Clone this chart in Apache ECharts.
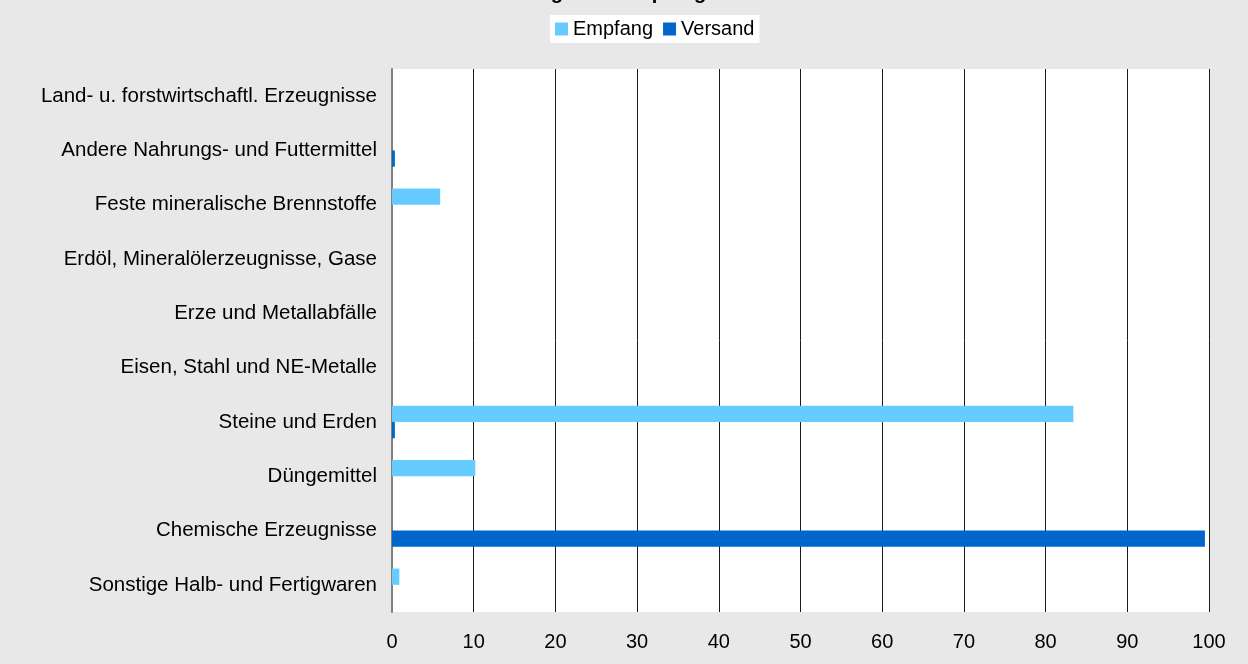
<!DOCTYPE html>
<html>
<head>
<meta charset="utf-8">
<script src="https://cdn.jsdelivr.net/npm/echarts@6/dist/echarts.min.js"></script>
<style>
html,body{margin:0;padding:0;background:#E8E8E8;}
#chart{width:1248px;height:664px;}
</style>
</head>
<body>
<div id="chart"></div>
<script>
const titleText = 'Güterumschlag nach Empfang und Versand';
const categories = [
  'Land- u. forstwirtschaftl. Erzeugnisse',
  'Andere Nahrungs- und Futtermittel',
  'Feste mineralische Brennstoffe',
  'Erdöl, Mineralölerzeugnisse, Gase',
  'Erze und Metallabfälle',
  'Eisen, Stahl und NE-Metalle',
  'Steine und Erden',
  'Düngemittel',
  'Chemische Erzeugnisse',
  'Sonstige Halb- und Fertigwaren'
];
const empfang = [0, 0, 5.9, 0, 0, 0, 83.4, 10.2, 0, 0.9];
const versand = [0, 0.35, 0, 0, 0, 0, 0.35, 0, 99.5, 0];
const xTicks = [0, 10, 20, 30, 40, 50, 60, 70, 80, 90, 100];

const font = 'Liberation Sans, Arial, sans-serif';
const chart = echarts.init(document.getElementById('chart'), null, {renderer: 'canvas'});
chart.setOption({
  backgroundColor: '#E8E8E8',
  animation: false,
  textStyle: {fontFamily: font},
  title: {
    text: titleText,
    left: 'center',
    top: -22,
    textStyle: {fontFamily: font, fontSize: 20, fontWeight: 'bold', color: '#000'}
  },
  legend: {
    data: ['Empfang', 'Versand'],
    left: 550,
    top: 15,
    backgroundColor: '#FFFFFF',
    padding: [4, 5],
    itemWidth: 13,
    itemHeight: 13,
    itemGap: 10,
    icon: 'rect',
    textStyle: {fontFamily: font, fontSize: 20, color: '#000'}
  },
  grid: {
    left: 392, right: 39, top: 69, bottom: 52,
    show: true, backgroundColor: '#FFFFFF', borderWidth: 0,
    containLabel: false
  },
  xAxis: {
    type: 'value',
    min: xTicks[0],
    max: xTicks[xTicks.length - 1],
    interval: 10,
    axisLine: {show: false},
    axisTick: {show: false},
    splitLine: {show: true, lineStyle: {color: '#1A1A1A', width: 1}},
    axisLabel: {fontFamily: font, fontSize: 20, color: '#000', margin: 20}
  },
  yAxis: {
    type: 'category',
    data: categories,
    inverse: true,
    axisLine: {show: true, lineStyle: {color: '#808080', width: 2}},
    axisTick: {show: false},
    splitLine: {show: false},
    axisLabel: {fontFamily: font, fontSize: 20.5, color: '#000', margin: 15}
  },
  series: [
    {name: 'Empfang', type: 'bar', data: empfang, barGap: '0%', barCategoryGap: '40%',
     itemStyle: {color: '#66CCFF'}},
    {name: 'Versand', type: 'bar', data: versand, barGap: '0%', barCategoryGap: '40%',
     itemStyle: {color: '#0066CC'}}
  ]
});
</script>
</body>
</html>
